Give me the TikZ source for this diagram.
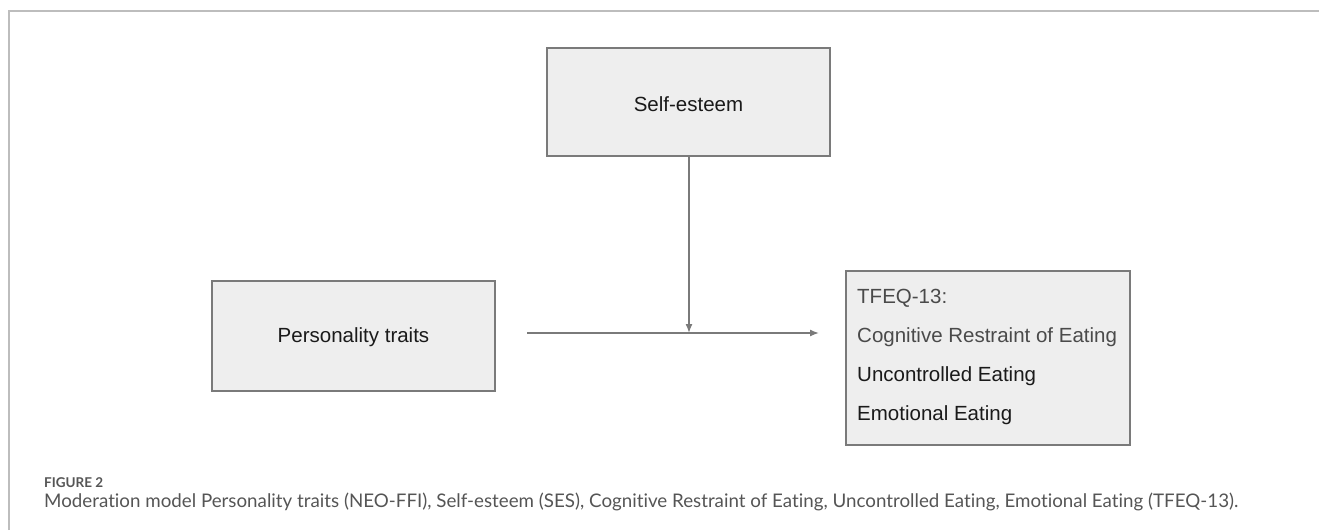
\documentclass[tikz,border=0pt]{standalone}
\usepackage{fontspec}
\setmainfont{Liberation Sans}
\newfontfamily\capfont[Ligatures=NoCommon]{Lato}
\usetikzlibrary{arrows.meta}
\definecolor{boxfill}{HTML}{EEEEEE}
\definecolor{boxline}{HTML}{7A7A7A}
\definecolor{frameline}{HTML}{BDBDBD}
\definecolor{captxt}{HTML}{555555}
\definecolor{darktxt}{HTML}{1A1A1A}
\definecolor{greytxt}{HTML}{4A4A4A}
\tikzset{
  varbox/.style={draw=boxline, line width=1.4pt, fill=boxfill, inner sep=0pt},
  conn/.style={draw=boxline, line width=1.4pt, -{Latex[length=9pt,width=7pt]}},
  boxtext/.style={font=\fontsize{20.5}{24}\selectfont, inner sep=0pt},
}
\begin{document}
\begin{tikzpicture}[x=1pt,y=-1pt]
\useasboundingbox (0,0) rectangle (1319,530);
% frame
\draw[frameline, line width=2pt] (9,530) -- (9,11) -- (1319,11);
% boxes
\node[varbox, minimum width=283pt, minimum height=108pt] (self) at (688.5,102) {};
\node[boxtext, text=darktxt] (selft) at (688.5,104) {Self-esteem};
\node[varbox, minimum width=283pt, minimum height=110pt] (pers) at (353.5,336) {};
\node[boxtext, text=darktxt] (perst) at (353.5,337) {Personality traits};
\node[varbox, minimum width=284pt, minimum height=174pt] (tfeq) at (988,358) {};
\node[boxtext, text=greytxt, anchor=west] (t1) at (857,298) {TFEQ-13:};
\node[boxtext, text=greytxt, anchor=west] (t2) at (857,337) {Cognitive Restraint of Eating};
\node[boxtext, text=darktxt, anchor=west] (t3) at (857,376) {Uncontrolled Eating};
\node[boxtext, text=darktxt, anchor=west] (t4) at (857,415) {Emotional Eating};
% connectors
\coordinate (hstart) at (527,333);
\coordinate (hend) at (819,333);
\coordinate (vend) at (689,333);
\draw[conn] (hstart) -- (hend);
\draw[conn] (self.south -| vend) -- (vend);
% caption
\node[anchor=base west, inner sep=0pt, text=captxt, font=\capfont\bfseries\fontsize{13.5}{16}\selectfont] (figlab) at (44,487) {FIGURE 2};
\node[anchor=base west, inner sep=0pt, text=captxt, font=\capfont\fontsize{18.75}{21}\selectfont] (cap) at (44,507) {Moderation model Personality traits (NEO-FFI), Self-esteem (SES), Cognitive Restraint of Eating, Uncontrolled Eating, Emotional Eating (TFEQ-13).};
\end{tikzpicture}
\end{document}
